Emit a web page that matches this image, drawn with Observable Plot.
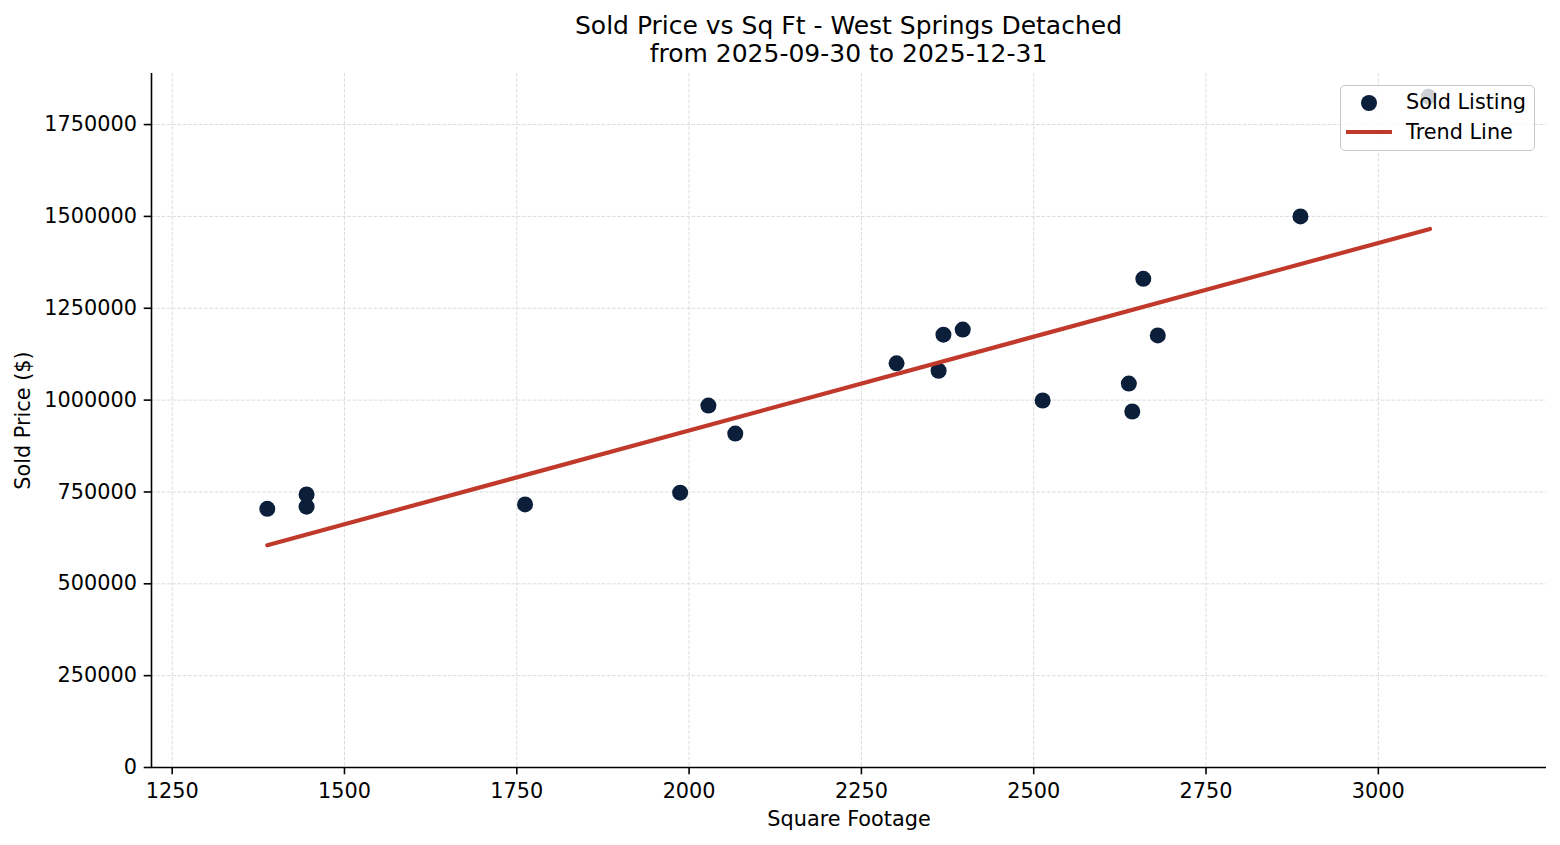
<!DOCTYPE html>
<html>
<head>
<meta charset="utf-8">
<script src="https://cdn.jsdelivr.net/npm/d3@7"></script>
<script src="https://cdn.jsdelivr.net/npm/@observablehq/plot@0.6"></script>
<style>
  body { margin: 0; background: #fff; font-family: "DejaVu Sans", sans-serif; }
  #wrap { position: relative; width: 1560px; height: 845px; overflow: hidden; }
  #title { position: absolute; left: 151px; width: 1395px; top: 11.6px; text-align: center;
           font-size: 25px; line-height: 28.2px; color: #000; white-space: nowrap; }
  #legend { position: absolute; left: 1340px; top: 85px; width: 193px; height: 64px;
            border: 1px solid #c8c8c8; border-radius: 5px; background: rgba(255,255,255,0.8); }
  .ltxt { position: absolute; font-size: 20.8px; line-height: 20.8px; color: #000; white-space: nowrap; }
  #legsvg { position: absolute; left: 0; top: 0; }
</style>
</head>
<body>
<div id="wrap">
  <div id="chart"></div>
  <div id="title">Sold Price vs Sq Ft - West Springs Detached<br>from 2025-09-30 to 2025-12-31</div>
  <div id="legend">
    <svg id="legsvg" width="193" height="64">
      <circle cx="28" cy="17" r="8" fill="#0b1f3a"></circle>
      <line x1="5" x2="51" y1="46" y2="46" stroke="#c0392b" stroke-width="4.2"></line>
    </svg>
    <div class="ltxt" style="left:65px;top:5.7px;">Sold Listing</div>
    <div class="ltxt" style="left:65px;top:36.2px;">Trend Line</div>
  </div>
</div>
<script>
// Data
const sqft = [1388, 1445, 1445, 1762, 1987, 2028, 2067, 2301, 2362, 2369, 2397, 2513, 2638, 2643, 2659, 2680, 2887, 3073];
const price = [704000, 743000, 710000, 716000, 748000, 985000, 909000, 1100000, 1080000, 1178000, 1192000, 999000, 1045000, 969000, 1330000, 1176000, 1500000, 1826000];
const trendX = [1388, 3075];
const trendY = [605000, 1466000];
const xTicks = [1250, 1500, 1750, 2000, 2250, 2500, 2750, 3000];
const yTicks = [0, 250000, 500000, 750000, 1000000, 1250000, 1500000, 1750000];
const xDomain = [1220, 3244];
const yDomain = [0, 1889000];
const xLabel = "Square Footage";
const yLabel = "Sold Price ($)";

const points = sqft.map((x, i) => ({x, y: price[i]}));
const trend = trendX.map((x, i) => ({x, y: trendY[i]}));

const gridStyle = {stroke: "#d3d3d3", strokeOpacity: 1, strokeWidth: 0.8, strokeDasharray: "3.7,1.6"};

const chart = Plot.plot({
  width: 1560,
  height: 845,
  marginLeft: 151,
  marginRight: 14,
  marginTop: 73,
  marginBottom: 78,
  style: {fontFamily: "DejaVu Sans", fontSize: "20.8px", color: "#000", background: "#fff"},
  x: {domain: xDomain},
  y: {domain: yDomain},
  marks: [
    Plot.gridX(xTicks, gridStyle),
    Plot.gridY(yTicks, gridStyle),
    Plot.dot(points, {x: "x", y: "y", r: 8, fill: "#0b1f3a", stroke: "none"}),
    Plot.line(trend, {x: "x", y: "y", stroke: "#c0392b", strokeWidth: 4.2}),
    Plot.ruleX([xDomain[0]], {stroke: "#000", strokeWidth: 1.6}),
    Plot.ruleY([0], {stroke: "#000", strokeWidth: 1.6}),
    Plot.axisX(xTicks, {tickSize: 7.3, tickPadding: 8.6, strokeWidth: 1.6, stroke: "#000", fill: "#000",
      tickFormat: d => String(d), label: null}),
    Plot.axisY(yTicks, {tickSize: 7.3, tickPadding: 7.3, strokeWidth: 1.6, stroke: "#000", fill: "#000",
      tickFormat: d => String(d), label: null}),
    Plot.text([xLabel], {frameAnchor: "bottom", dy: 52, text: d => d, lineAnchor: "middle", textAnchor: "middle", fill: "#000"}),
    Plot.text([yLabel], {frameAnchor: "left", dx: -128.4, rotate: -90, text: d => d, lineAnchor: "middle", textAnchor: "middle", fill: "#000"})
  ]
});
document.getElementById("chart").appendChild(chart);
</script>
</body>
</html>
